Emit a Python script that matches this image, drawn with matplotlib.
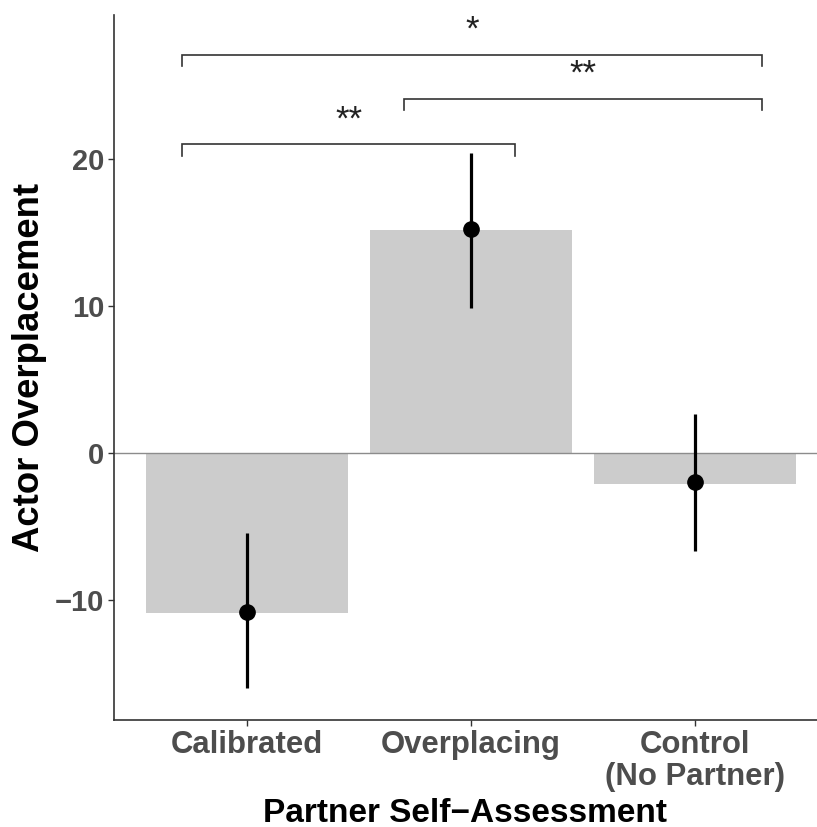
import matplotlib
matplotlib.use("Agg")
import matplotlib.pyplot as plt

categories = ["Calibrated", "Overplacing", "Control\n(No Partner)"]
means = [-10.95, 15.15, -2.1]
points = [-10.85, 15.2, -1.97]
err_low = [-16.0, 9.86, -6.67]
err_high = [-5.44, 20.4, 2.65]

# significance brackets: (x_start, x_end, y, label)
brackets = [
    (0.71, 2.196, 21.0, "**"),
    (1.70, 3.30, 24.1, "**"),
    (0.71, 3.30, 27.1, "*"),
]
yticks = [-10, 0, 10, 20]

plt.rcParams['font.family'] = ['Liberation Sans', 'DejaVu Sans']

fig = plt.figure(figsize=(8.17, 8.27), dpi=100)
ax = fig.add_axes([0.1395, 0.1294, 0.8605, 0.8525])

x = [1, 2, 3]
ax.bar(x, means, width=0.9, color="#cccccc", zorder=1)
ax.axhline(0, color="#8c8c8c", lw=1.0, zorder=2)
for xi, lo, hi in zip(x, err_low, err_high):
    ax.plot([xi, xi], [lo, hi], color="black", lw=2.3, solid_capstyle="butt", zorder=3)
ax.plot(x, points, "o", color="black", markersize=11, zorder=4)

tick_h = 0.8
for x0, x1, yb, lab in brackets:
    ax.plot([x0, x0, x1, x1], [yb - tick_h, yb, yb, yb - tick_h],
            color="#333333", lw=1.2, zorder=3, solid_joinstyle="miter")
    ax.text((x0 + x1) / 2, yb + 1.0, lab, ha="center", va="baseline",
            fontsize=25, color="#222222")

ax.set_xlim(0.406, 3.545)
ax.set_ylim(-18.2, 29.8)
ax.set_xticks(x)
ax.set_xticklabels(categories, fontsize=22.4, fontweight="bold", color="#4d4d4d",
                   linespacing=1.1)
ax.set_yticks(yticks)
ax.set_yticklabels(["\u221210", "0", "10", "20"], fontsize=21, fontweight="bold", color="#4d4d4d")
ax.tick_params(axis="both", length=4, width=1.0, color="#333333", pad=3)

for s in ["top", "right"]:
    ax.spines[s].set_visible(False)
for s in ["left", "bottom"]:
    ax.spines[s].set_color("#333333")
    ax.spines[s].set_linewidth(1.2)

ax.set_xlabel("Partner Self\u2212Assessment", fontsize=24, fontweight="bold", color="black", labelpad=4)
ax.set_ylabel("Actor Overplacement", fontsize=26.3, fontweight="bold", color="black", labelpad=6)

fig.savefig("out.png", dpi=100)
